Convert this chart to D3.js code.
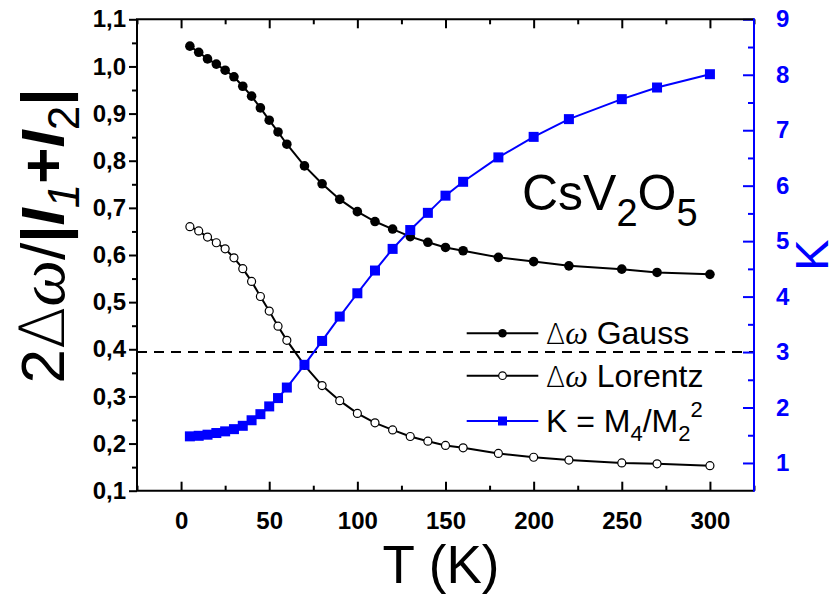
<!DOCTYPE html>
<html><head><meta charset="utf-8">
<script src="https://cdn.jsdelivr.net/npm/d3@7"></script>
<style>html,body{margin:0;padding:0;background:#fff;}svg{display:block;}</style>
</head><body>
<svg id="chart" width="837" height="601"></svg>
<script>
const temps = [5,10,15,20,25,30,35,40,45,50,55,60,70,80,90,100,110,120,130,140,150,160,180,200,220,250,270,300];
const gauss = [1.043,1.030,1.016,1.005,0.992,0.978,0.958,0.937,0.912,0.886,0.861,0.835,0.789,0.751,0.718,0.692,0.671,0.655,0.639,0.627,0.616,0.609,0.595,0.586,0.577,0.570,0.563,0.559];
const lorentz = [0.660,0.651,0.638,0.626,0.613,0.594,0.571,0.544,0.512,0.481,0.449,0.419,0.366,0.323,0.291,0.264,0.244,0.229,0.215,0.205,0.196,0.191,0.179,0.171,0.165,0.159,0.157,0.153];
const kurt = [1.48,1.49,1.51,1.54,1.57,1.61,1.67,1.77,1.88,2.02,2.17,2.36,2.77,3.20,3.64,4.06,4.47,4.86,5.20,5.51,5.82,6.07,6.51,6.88,7.20,7.56,7.77,8.01];
const xTicks = [0,50,100,150,200,250,300];
const yLeftTicks = [0.1,0.2,0.3,0.4,0.5,0.6,0.7,0.8,0.9,1.0,1.1];
const yRightTicks = [1,2,3,4,5,6,7,8,9];
const dashedK = 3;

const BLUE = "#0000ff";
const L = 137, R = 754, T = 19.3, B = 490.7;
const svg = d3.select("#chart");
const x = d3.scaleLinear().domain([-25, 325]).range([L, R]);
const yL = d3.scaleLinear().domain([0.1, 1.1]).range([B, T]);
const yR = d3.scaleLinear().domain([0.5, 9]).range([B, T]);
const comma = v => d3.format(".1f")(v).replace(".", ",");
const tickFont = "'Liberation Sans', Arial, sans-serif";

const xMinor = d3.range(-25, 326, 25).filter(v => xTicks.indexOf(v) < 0);
const yLMinor = d3.range(0.15, 1.1, 0.1);
const yRMinor = d3.range(1.5, 9, 1);

function styleAxis(g, color) {
  g.select(".domain").remove();
  g.selectAll(".tick line").attr("stroke", color).attr("stroke-width", 2);
  g.selectAll(".tick text").attr("font-family", tickFont).attr("font-weight", "bold")
    .attr("font-size", 24).attr("fill", color);
}

svg.append("line").attr("x1", L).attr("x2", R).attr("y1", yR(dashedK)).attr("y2", yR(dashedK))
  .attr("stroke", "#000").attr("stroke-width", 2).attr("stroke-dasharray", "10,7");

const gb = svg.append("g").attr("transform", `translate(0,${B})`)
  .call(d3.axisBottom(x).tickValues(xTicks).tickSize(-9).tickPadding(21).tickFormat(d3.format("d")));
styleAxis(gb, "#000");
svg.append("g").attr("transform", `translate(0,${B})`)
  .call(d3.axisBottom(x).tickValues(xMinor).tickSize(-5).tickFormat(""))
  .call(g => styleAxis(g, "#000"));
svg.append("g").attr("transform", `translate(0,${T})`)
  .call(d3.axisTop(x).tickValues(xTicks).tickSize(-9).tickFormat(""))
  .call(g => styleAxis(g, "#000"));
svg.append("g").attr("transform", `translate(0,${T})`)
  .call(d3.axisTop(x).tickValues(xMinor).tickSize(-5).tickFormat(""))
  .call(g => styleAxis(g, "#000"));
const gl = svg.append("g").attr("transform", `translate(${L},0)`)
  .call(d3.axisLeft(yL).tickValues(yLeftTicks).tickSize(8).tickPadding(3).tickFormat(comma));
styleAxis(gl, "#000");
svg.append("g").attr("transform", `translate(${L},0)`)
  .call(d3.axisLeft(yL).tickValues(yLMinor).tickSize(5).tickFormat(""))
  .call(g => styleAxis(g, "#000"));
const gr = svg.append("g").attr("transform", `translate(${R},0)`)
  .call(d3.axisRight(yR).tickValues(yRightTicks).tickSize(-11).tickPadding(22).tickFormat(d3.format("d")));
styleAxis(gr, BLUE);
svg.append("g").attr("transform", `translate(${R},0)`)
  .call(d3.axisRight(yR).tickValues(yRMinor).tickSize(-6).tickFormat(""))
  .call(g => styleAxis(g, BLUE));

svg.append("path").attr("d", `M${L},${T}H${R}M${L},${T-1}V${B}H${R}`)
  .attr("fill", "none").attr("stroke", "#000").attr("stroke-width", 2);
svg.append("line").attr("x1", R).attr("x2", R).attr("y1", T - 1).attr("y2", B + 1)
  .attr("stroke", BLUE).attr("stroke-width", 2);

const gaussData = temps.map((t, i) => [t, gauss[i]]);
const lorData = temps.map((t, i) => [t, lorentz[i]]);
const kData = temps.map((t, i) => [t, kurt[i]]);
const lineL = d3.line().x(d => x(d[0])).y(d => yL(d[1]));
const lineR = d3.line().x(d => x(d[0])).y(d => yR(d[1]));

svg.append("path").datum(gaussData).attr("d", lineL).attr("fill", "none").attr("stroke", "#000").attr("stroke-width", 2);
svg.append("g").selectAll("circle").data(gaussData).join("circle")
  .attr("cx", d => x(d[0])).attr("cy", d => yL(d[1])).attr("r", 4.8).attr("fill", "#000");

svg.append("path").datum(lorData).attr("d", lineL).attr("fill", "none").attr("stroke", "#000").attr("stroke-width", 2);
svg.append("g").selectAll("circle").data(lorData).join("circle")
  .attr("cx", d => x(d[0])).attr("cy", d => yL(d[1])).attr("r", 4)
  .attr("fill", "#fff").attr("stroke", "#000").attr("stroke-width", 1.2);

svg.append("path").datum(kData).attr("d", lineR).attr("fill", "none").attr("stroke", BLUE).attr("stroke-width", 2);
svg.append("g").selectAll("rect").data(kData).join("rect")
  .attr("x", d => x(d[0]) - 5).attr("y", d => yR(d[1]) - 5).attr("width", 10).attr("height", 10).attr("fill", BLUE);

// legend
const legX1 = 466.7, legX2 = 538.3, legM = 502.5, legText = 546;
const legRows = [333.3, 375.7, 421];
const lg = svg.append("g").attr("font-family", tickFont).attr("font-size", 32);
legRows.forEach((yy, i) => {
  lg.append("line").attr("x1", legX1).attr("x2", legX2).attr("y1", yy).attr("y2", yy)
    .attr("stroke", i === 2 ? BLUE : "#000").attr("stroke-width", 2);
});
lg.append("circle").attr("cx", legM).attr("cy", legRows[0]).attr("r", 4.3).attr("fill", "#000");
lg.append("circle").attr("cx", legM).attr("cy", legRows[1]).attr("r", 3.8).attr("fill", "#fff").attr("stroke", "#000").attr("stroke-width", 1.2);
lg.append("rect").attr("x", legM - 4.5).attr("y", legRows[2] - 4.5).attr("width", 9).attr("height", 9).attr("fill", BLUE);

function deltaOmega(t) {
  t.append("tspan").text("\u0394").attr("font-family", "'DejaVu Sans', sans-serif").attr("font-weight", "200").attr("font-size", 28);
  t.append("tspan").text("\u03c9").attr("font-family", "'Liberation Serif', serif").attr("font-style", "italic").attr("font-size", 32);
}
const t1 = lg.append("text").attr("x", legText).attr("y", legRows[0] + 11);
deltaOmega(t1); t1.append("tspan").text(" Gauss");
const t2 = lg.append("text").attr("x", legText).attr("y", legRows[1] + 11);
deltaOmega(t2); t2.append("tspan").text(" Lorentz");
const t3 = lg.append("text").attr("x", legText).attr("y", legRows[2] + 11);
t3.append("tspan").text("K = M");
t3.append("tspan").text("4").attr("font-size", 22).attr("dy", 9);
t3.append("tspan").text("/M").attr("dy", -9);
t3.append("tspan").text("2").attr("font-size", 22).attr("dy", 9);
t3.append("tspan").text("2").attr("font-size", 22).attr("dy", -24);

// compound label
const tt = svg.append("text").attr("x", 522).attr("y", 210)
  .attr("font-family", tickFont).attr("font-size", 50);
tt.append("tspan").text("CsV");
tt.append("tspan").text("2").attr("font-size", 38).attr("dy", 16);
tt.append("tspan").text("O").attr("dy", -16);
tt.append("tspan").text("5").attr("font-size", 38).attr("dy", 16);

// x title
svg.append("text").attr("x", 441).attr("y", 583).attr("text-anchor", "middle")
  .attr("font-family", tickFont).attr("font-size", 53).text("T (K)");

// right title
svg.append("text").attr("transform", "translate(828,255) rotate(-90)").attr("text-anchor", "middle")
  .attr("font-family", tickFont).attr("font-size", 47).attr("fill", BLUE).text("K");

// left title
const yl = svg.append("text").attr("transform", "translate(64,236) rotate(-90)").attr("text-anchor", "middle")
  .attr("font-family", tickFont).attr("font-size", 62);
yl.append("tspan").text("2");
yl.append("tspan").text("\u0394").attr("font-family", "'DejaVu Sans', sans-serif").attr("font-weight", "200");
yl.append("tspan").text("\u03c9").attr("font-family", "'Liberation Serif', serif").attr("font-style", "italic").attr("font-size", 66);
yl.append("tspan").text("/");
yl.append("tspan").text("|").attr("font-weight", "bold");
yl.append("tspan").text("I").attr("font-style", "italic").attr("font-weight", "bold");
yl.append("tspan").text("1").attr("font-style", "italic").attr("font-size", 44).attr("dy", 15);
yl.append("tspan").text("+").attr("font-weight", "bold").attr("dy", -15);
yl.append("tspan").text("I").attr("font-style", "italic").attr("font-weight", "bold");
yl.append("tspan").text("2").attr("font-size", 44).attr("dy", 15);
yl.append("tspan").text("|").attr("font-weight", "bold").attr("dy", -15);
</script>
</body></html>
